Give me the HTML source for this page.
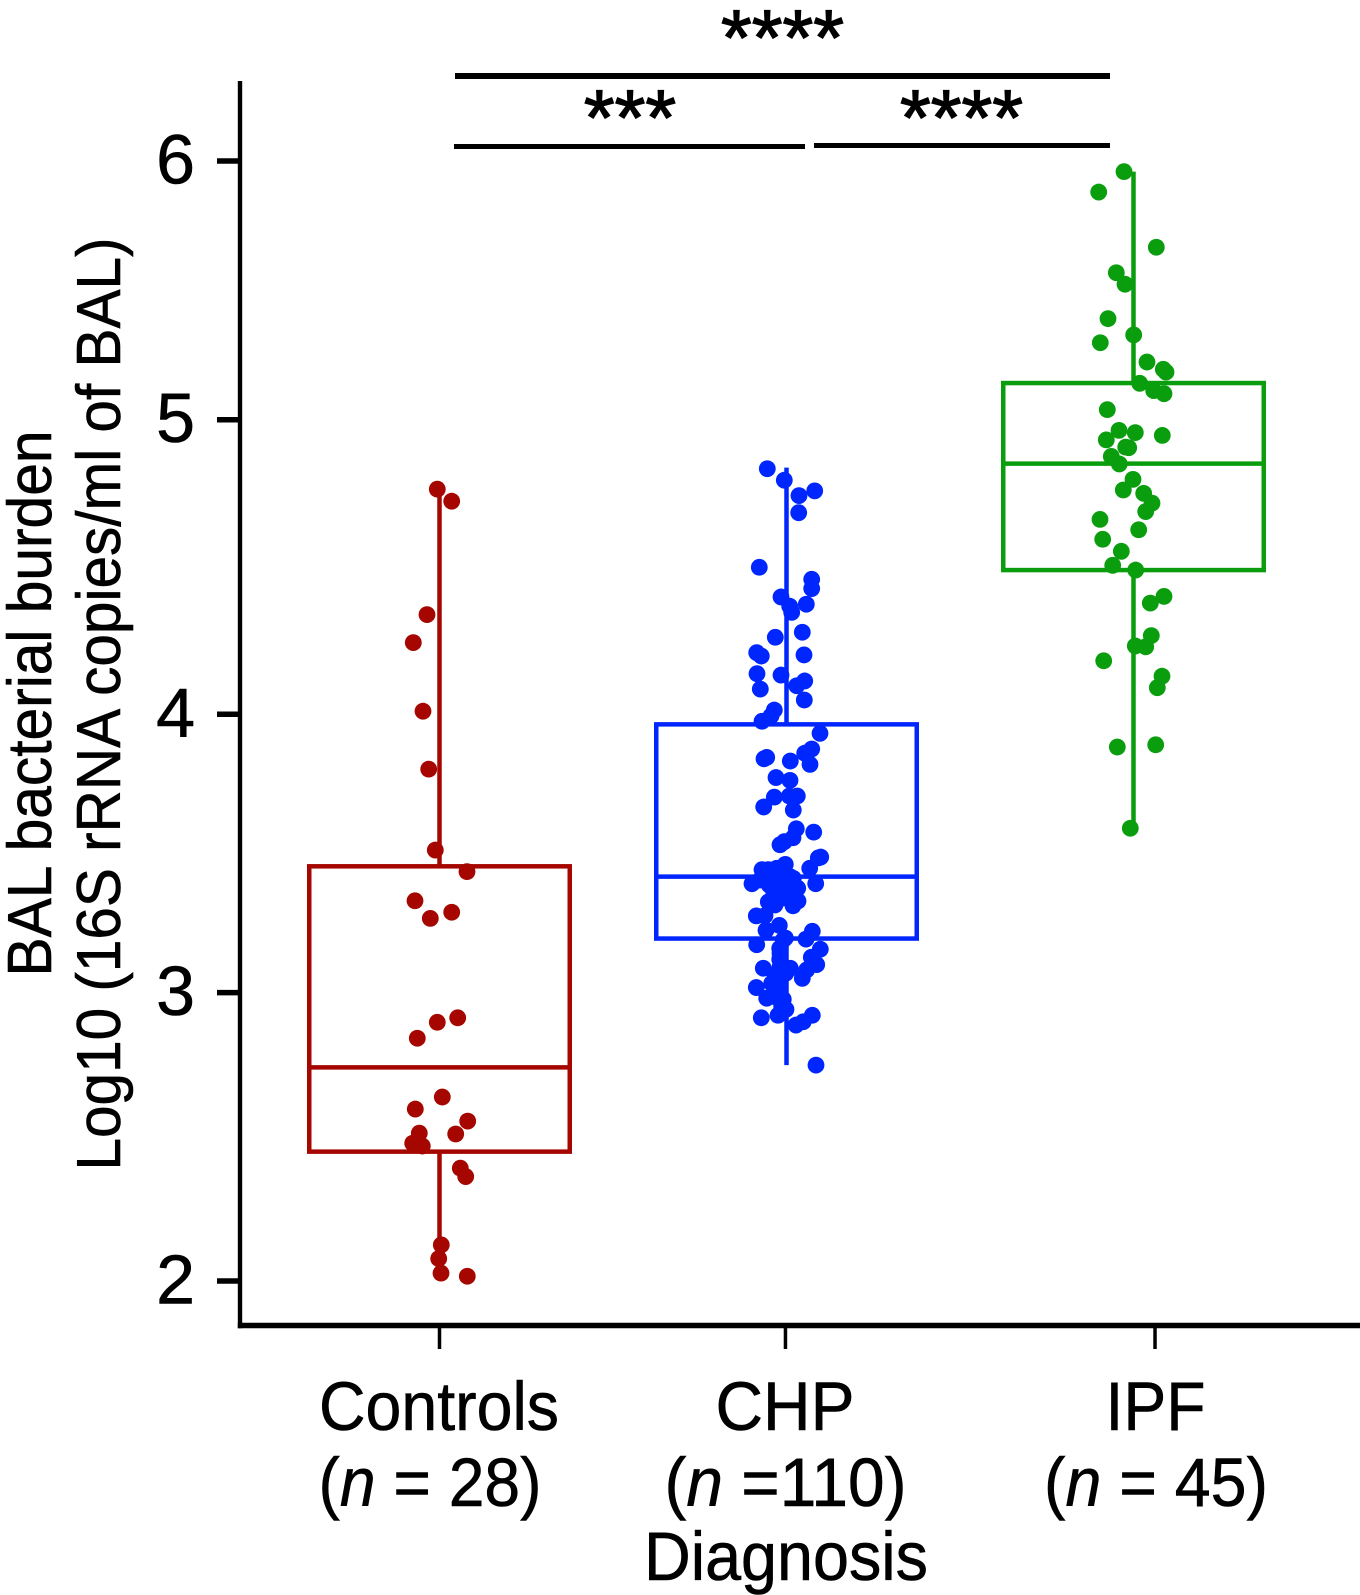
<!DOCTYPE html>
<html lang="en">
<head>
<meta charset="utf-8">
<title>BAL bacterial burden by diagnosis</title>
<style>
html,body{margin:0;padding:0;background:#fff;}
svg{display:block;}
text{font-family:"Liberation Sans",sans-serif;fill:#000;stroke:#000;stroke-width:0.6px;}
text.stars{stroke-width:1.3px;}
</style>
</head>
<body>
<svg id="chart" xmlns="http://www.w3.org/2000/svg" width="1360" height="1595" viewBox="0 0 1360 1595">
  <rect x="0" y="0" width="1360" height="1595" fill="#fff"/>
  <g id="marks"></g>
  <g id="axes"></g>

  <text transform="translate(51,703.5) rotate(-90)" text-anchor="middle" font-size="62" textLength="546" lengthAdjust="spacingAndGlyphs">BAL bacterial burden</text>
  <text transform="translate(120,704) rotate(-90)" text-anchor="middle" font-size="62" textLength="933" lengthAdjust="spacingAndGlyphs">Log10 (16S rRNA copies/ml of BAL)</text>

  <text x="439" y="1430" text-anchor="middle" font-size="69" textLength="240" lengthAdjust="spacingAndGlyphs">Controls</text>
  <text x="785" y="1430" text-anchor="middle" font-size="69" textLength="139" lengthAdjust="spacingAndGlyphs">CHP</text>
  <text x="1155.5" y="1430" text-anchor="middle" font-size="69" textLength="100" lengthAdjust="spacingAndGlyphs">IPF</text>

  <text x="430" y="1506" text-anchor="middle" font-size="69" textLength="223" lengthAdjust="spacingAndGlyphs">(<tspan font-style="italic">n</tspan> = 28)</text>
  <text x="785.5" y="1506" text-anchor="middle" font-size="69" textLength="242" lengthAdjust="spacingAndGlyphs">(<tspan font-style="italic">n</tspan> =110)</text>
  <text x="1156" y="1506" text-anchor="middle" font-size="69" textLength="224" lengthAdjust="spacingAndGlyphs">(<tspan font-style="italic">n</tspan> = 45)</text>

  <text x="786" y="1580" text-anchor="middle" font-size="69" textLength="284" lengthAdjust="spacingAndGlyphs">Diagnosis</text>

  <line x1="455" y1="76" x2="1110" y2="76" stroke="#000" stroke-width="6"/>
  <line x1="454" y1="146.5" x2="805" y2="146.5" stroke="#000" stroke-width="5"/>
  <line x1="814" y1="145.5" x2="1110" y2="145.5" stroke="#000" stroke-width="5"/>
  <text class="stars" x="782.5" y="65" text-anchor="middle" font-size="79">****</text>
  <text class="stars" x="630" y="145" text-anchor="middle" font-size="79">***</text>
  <text class="stars" x="961.5" y="145" text-anchor="middle" font-size="79">****</text>
</svg>

<script>
// ---- Data ----
const categories = ['Controls', 'CHP', 'IPF'];
const seriesColors = ['#a50600', '#0026ff', '#0a9e0f'];

const yTickValues = [2, 3.03, 4.024, 5.076, 6];
const yTickLabels = ['2', '3', '4', '5', '6'];
const xTickCategoryValues = [0, 0.997, 2.062];

const boxQ3 = [3.481, 3.988, 5.207];
const boxMedian = [2.763, 3.444, 4.919];
const boxQ1 = [2.462, 3.223, 4.539];
const whiskerHigh = [4.829, 4.905, 5.962];
const whiskerLow = [2.1, 2.771, 3.618];

const controlsValues = [4.828,4.785,4.380,4.280,4.035,3.828,3.539,3.462,3.358,3.295,3.317,2.940,2.924,2.867,2.657,2.614,2.571,2.525,2.528,2.492,2.482,2.486,2.403,2.373,2.129,2.080,2.028,2.017];
const controlsJitter = [-0.022,0.122,-0.125,-0.262,-0.165,-0.108,-0.042,0.275,-0.245,-0.092,0.122,0.182,-0.022,-0.222,0.028,-0.242,0.282,0.162,-0.202,-0.268,-0.172,-0.24,0.208,0.262,0.018,-0.008,0.015,0.278];

const chpValues = [4.901,4.860,4.805,4.822,4.744,4.549,4.506,4.473,4.443,4.410,4.388,4.417,4.317,4.299,4.244,4.232,4.236,4.169,4.164,4.143,4.126,4.114,4.075,4.039,4.018,3.999,3.956,3.870,3.865,3.857,3.900,3.885,3.845,3.798,3.788,3.728,3.732,3.732,3.693,3.682,3.615,3.583,3.569,3.558,3.603,3.514,3.511,3.474,3.488,3.469,3.469,3.450,3.438,3.444,3.419,3.432,3.419,3.403,3.414,3.420,3.390,3.354,3.367,3.357,3.340,3.385,3.304,3.305,3.270,3.253,3.249,3.221,3.225,3.201,3.188,3.185,3.149,3.156,3.130,3.111,3.117,3.117,3.093,3.099,3.081,3.048,3.051,3.028,3.010,3.006,2.970,2.949,2.940,2.949,2.926,2.914,2.771,3.444,3.474,3.396,3.379,3.063,3.063,3.170,3.122,3.015,2.980,3.218,3.404,3.343];
const chpJitter = [-0.192,-0.022,0.125,0.282,0.122,-0.272,0.252,0.252,-0.055,0.032,0.052,0.198,0.158,-0.112,-0.298,-0.252,0.175,-0.295,-0.055,0.182,0.102,-0.262,0.178,-0.122,-0.155,-0.245,0.335,-0.198,-0.225,0.038,0.252,0.182,0.235,-0.105,0.035,-0.122,0.108,0.028,-0.228,0.068,0.098,0.065,-0.022,-0.065,0.272,0.342,0.318,0.232,-0.012,-0.245,-0.182,-0.132,0.068,-0.065,-0.345,-0.265,0.292,0.112,-0.172,0.002,-0.065,-0.182,-0.048,0.115,0.065,0.018,-0.302,-0.215,-0.072,-0.205,0.258,0.195,-0.012,-0.298,-0.068,0.338,-0.068,0.248,0.302,0.202,0.038,-0.232,-0.115,-0.008,0.158,-0.302,-0.122,-0.098,-0.198,-0.032,-0.005,-0.085,-0.252,0.258,0.168,0.095,0.295,0.035,-0.098,-0.132,0.068,-0.065,-0.148,-0.065,-0.065,-0.115,-0.048,-0.032,0.035,-0.115];

const ipfValues = [5.962,5.889,5.692,5.601,5.560,5.437,5.379,5.351,5.282,5.256,5.246,5.206,5.180,5.169,5.112,5.038,5.030,5.004,5.020,4.978,4.976,4.945,4.918,4.863,4.825,4.813,4.778,4.748,4.720,4.683,4.649,4.606,4.556,4.539,4.445,4.421,4.305,4.265,4.268,4.215,4.160,4.119,3.907,3.915,3.617];
const ipfJitter = [-0.095,-0.348,0.228,-0.172,-0.085,-0.255,0.002,-0.332,0.135,0.298,0.325,0.062,0.202,0.305,-0.262,-0.145,0.018,-0.272,0.288,-0.078,-0.048,-0.222,-0.142,-0.005,-0.102,0.102,0.185,0.122,-0.335,0.052,-0.308,-0.122,-0.208,0.022,0.305,0.168,0.178,0.122,0.018,-0.298,0.285,0.238,-0.162,0.222,-0.032];

const pointValues = [controlsValues, chpValues, ipfValues];
const pointJitter = [controlsJitter, chpJitter, ipfJitter];

// ---- Axis functions ----
const SVG_NS = 'http://www.w3.org/2000/svg';
const yScale = v => 1281 - (v - 2) * 280;
const xScale = c => 439.5 + c * 347;
const jitterScale = j => j * 100;
const BOX_WIDTH = 260.5;
const BOX_STROKE = 4.5;
const POINT_RADIUS = 8.4;
const Y_AXIS_X = 240;
const Y_AXIS_TOP = 81;
const X_AXIS_Y = 1325.5;
const X_AXIS_END = 1360;

const marks = document.getElementById('marks');
const axes = document.getElementById('axes');

function make(parent, tag, attrs) {
  const el = document.createElementNS(SVG_NS, tag);
  for (const k in attrs) el.setAttribute(k, attrs[k]);
  parent.appendChild(el);
  return el;
}

// ---- Boxes, whiskers, points ----
categories.forEach((cat, c) => {
  const key = cat.toLowerCase();
  const color = seriesColors[c];
  const cx = xScale(c);

  const group = make(marks, 'g', {});
  
  

  const upper = make(group, 'line', {x1: cx, x2: cx, y1: yScale(whiskerHigh[c]), y2: yScale(boxQ3[c]), stroke: color, 'stroke-width': BOX_STROKE});
  
  

  const lower = make(group, 'line', {x1: cx, x2: cx, y1: yScale(boxQ1[c]), y2: yScale(whiskerLow[c]), stroke: color, 'stroke-width': BOX_STROKE});
  
  

  const box = make(group, 'rect', {x: cx - BOX_WIDTH / 2, y: yScale(boxQ3[c]), width: BOX_WIDTH, height: yScale(boxQ1[c]) - yScale(boxQ3[c]), fill: 'none', stroke: color, 'stroke-width': BOX_STROKE});
  
  

  const med = make(group, 'line', {x1: cx - BOX_WIDTH / 2, x2: cx + BOX_WIDTH / 2, y1: yScale(boxMedian[c]), y2: yScale(boxMedian[c]), stroke: color, 'stroke-width': BOX_STROKE});
  
  

  pointValues[c].forEach((v, i) => {
    const dot = make(group, 'circle', {cx: cx + jitterScale(pointJitter[c][i]), cy: yScale(v), r: POINT_RADIUS, fill: color});
    
    
  });
});

// ---- Axes ----
const yAxisLine = make(axes, 'line', {x1: Y_AXIS_X, x2: Y_AXIS_X, y1: Y_AXIS_TOP, y2: X_AXIS_Y + 2.75, stroke: '#000', 'stroke-width': 4.4});



const xAxisLine = make(axes, 'line', {x1: Y_AXIS_X - 2.2, x2: X_AXIS_END, y1: X_AXIS_Y, y2: X_AXIS_Y, stroke: '#000', 'stroke-width': 5.5});



yTickValues.forEach((v, i) => {
  const y = yScale(v);
  const tick = make(axes, 'line', {x1: 217, x2: Y_AXIS_X, y1: y, y2: y, stroke: '#000', 'stroke-width': 5.5});
  
  

  const label = make(axes, 'text', {x: 195, y: y + 22.5, 'text-anchor': 'end', 'font-size': 70});
  
  
  label.textContent = yTickLabels[i];
});

xTickCategoryValues.forEach((c, i) => {
  const x = xScale(c);
  const tick = make(axes, 'line', {x1: x, x2: x, y1: X_AXIS_Y, y2: 1349, stroke: '#000', 'stroke-width': 3.5});
  
  
});
</script>
</body>
</html>
